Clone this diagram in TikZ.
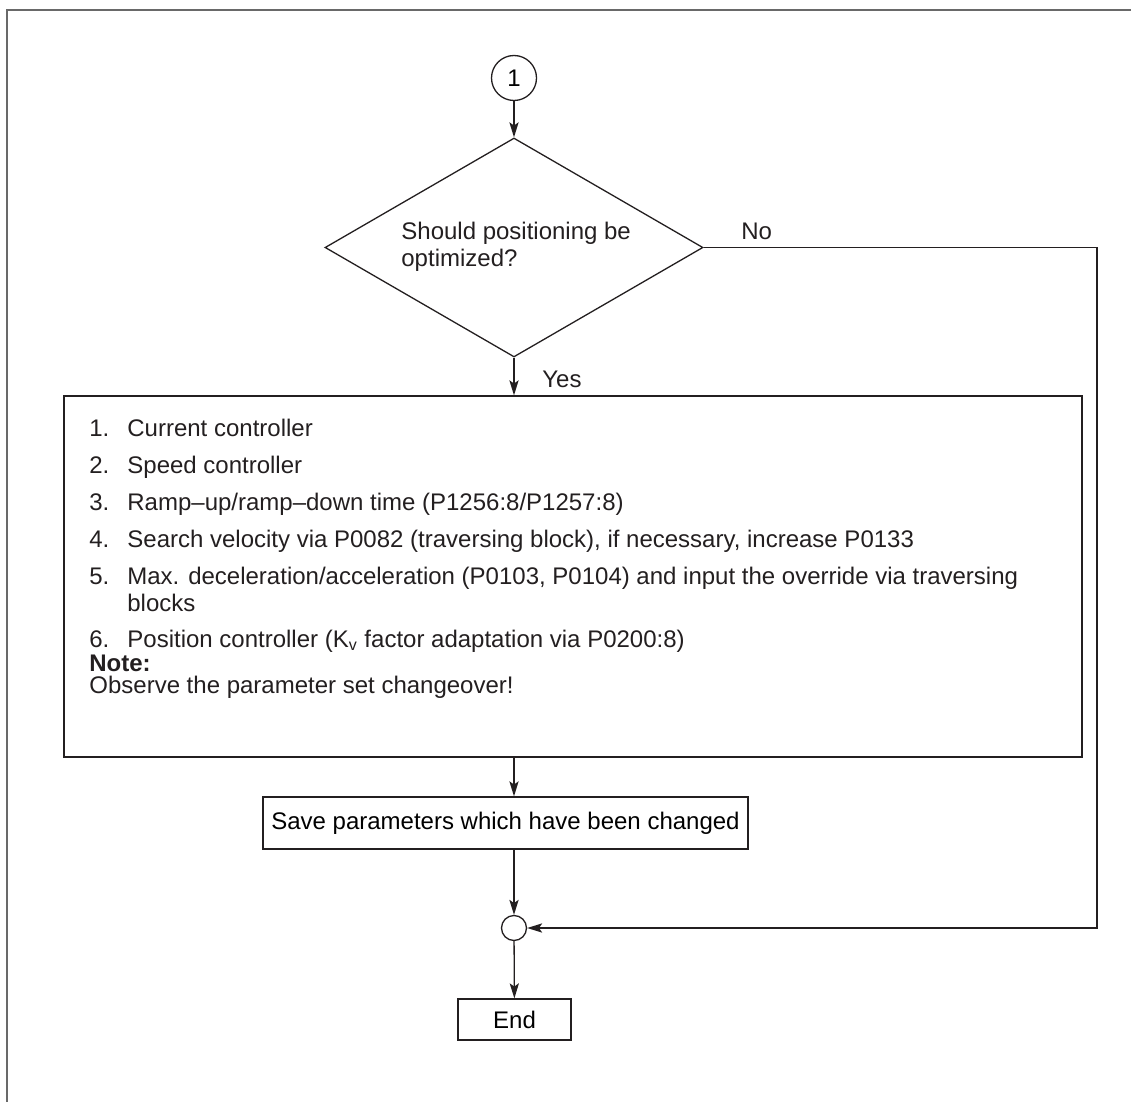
\documentclass[tikz,border=0pt]{standalone}
\usepackage{fontspec}
\setmainfont{Liberation Sans}
\usetikzlibrary{shapes.geometric, arrows.meta, positioning, calc}
\definecolor{flowline}{RGB}{35,31,32}
\definecolor{framegray}{RGB}{105,105,105}

\begin{document}
\begin{tikzpicture}[x=0.5pt, y=-0.5pt, font=\fontsize{12}{13.5}\selectfont,
  ln/.style={draw=flowline, line width=0.65pt},
  ar/.style={-{Stealth[length=7.5pt,width=4.6pt,inset=1.6pt]}, flowline, line width=0.65pt},
  conn/.style={circle, ln, inner sep=0pt},
  decision/.style={diamond, ln, inner sep=0pt, minimum width=189pt, minimum height=109.5pt},
  stepbox/.style={rectangle, ln, inner sep=0pt},
  lbl/.style={anchor=base west, inner sep=0pt, text=flowline}
]
  \useasboundingbox (0,0) rectangle (1131,1102);
  % page frame
  \draw[framegray, line width=1pt] (7,1102) -- (7,10) -- (1131,10);

  \node[conn, minimum size=22.5pt] (start) at (514,78) {1};
  \node[decision] (ask) at (514,247.5) {};
  \node[lbl] (askA) at (401,240) {Should positioning be};
  \node[lbl] (askB) at (401,266) {optimized?};
  \node[lbl] (no)  at (741,240) {No};
  \node[lbl] (yes) at (542,387) {Yes};

  % optimization steps
  \node[stepbox, minimum width=509pt, minimum height=180.5pt] (tune) at (573,576.5) {};
  \node[lbl] (n1) at (89,436) {1.};
  \node[lbl] (t1) at (127,436) {Current controller};
  \node[lbl] (n2) at (89,473) {2.};
  \node[lbl] (t2) at (127,473) {Speed controller};
  \node[lbl] (n3) at (89,510) {3.};
  \node[lbl] (t3) at (127,510) {Ramp--up/ramp--down time (P1256:8/P1257:8)};
  \node[lbl] (n4) at (89,547) {4.};
  \node[lbl] (t4) at (127,547) {Search velocity via P0082 (traversing block), if necessary, increase P0133};
  \node[lbl] (n5) at (89,584) {5.};
  \node[lbl] (t5) at (127,584) {Max. deceleration/acceleration (P0103, P0104) and input the override via traversing};
  \node[lbl] (t5b) at (127,611) {blocks};
  \node[lbl] (n6) at (89,647) {6.};
  \node[lbl] (t6) at (127,647) {Position controller (K\textsubscript{v} factor adaptation via P0200:8)};
  \node[lbl] (note) at (89,671) {\bfseries Note:};
  \node[lbl] (obs)  at (89,693) {Observe the parameter set changeover!};

  \node[stepbox, minimum width=242.5pt, minimum height=26pt] (save) at (505.5,823) {Save parameters which have been changed};
  \node[conn, minimum size=12.5pt] (merge) at (514,928) {};
  \node[stepbox, minimum width=56.5pt, minimum height=20.5pt] (finish) at (514.5,1019.5) {End};
  \coordinate (rt) at (1097,0);

  \draw[ar] (start) -- (ask);
  \draw[ar] (ask) -- (ask.south |- tune.north);
  \draw[ar] (tune.south -| start) -- (save.north -| start);
  \draw[ar] (save.south -| start) -- (merge);
  \draw[ar] (merge) -- (finish);
  \draw[ar] (ask.east) -- (ask.east -| rt) -- (merge -| rt) -- (merge);
\end{tikzpicture}
\end{document}
